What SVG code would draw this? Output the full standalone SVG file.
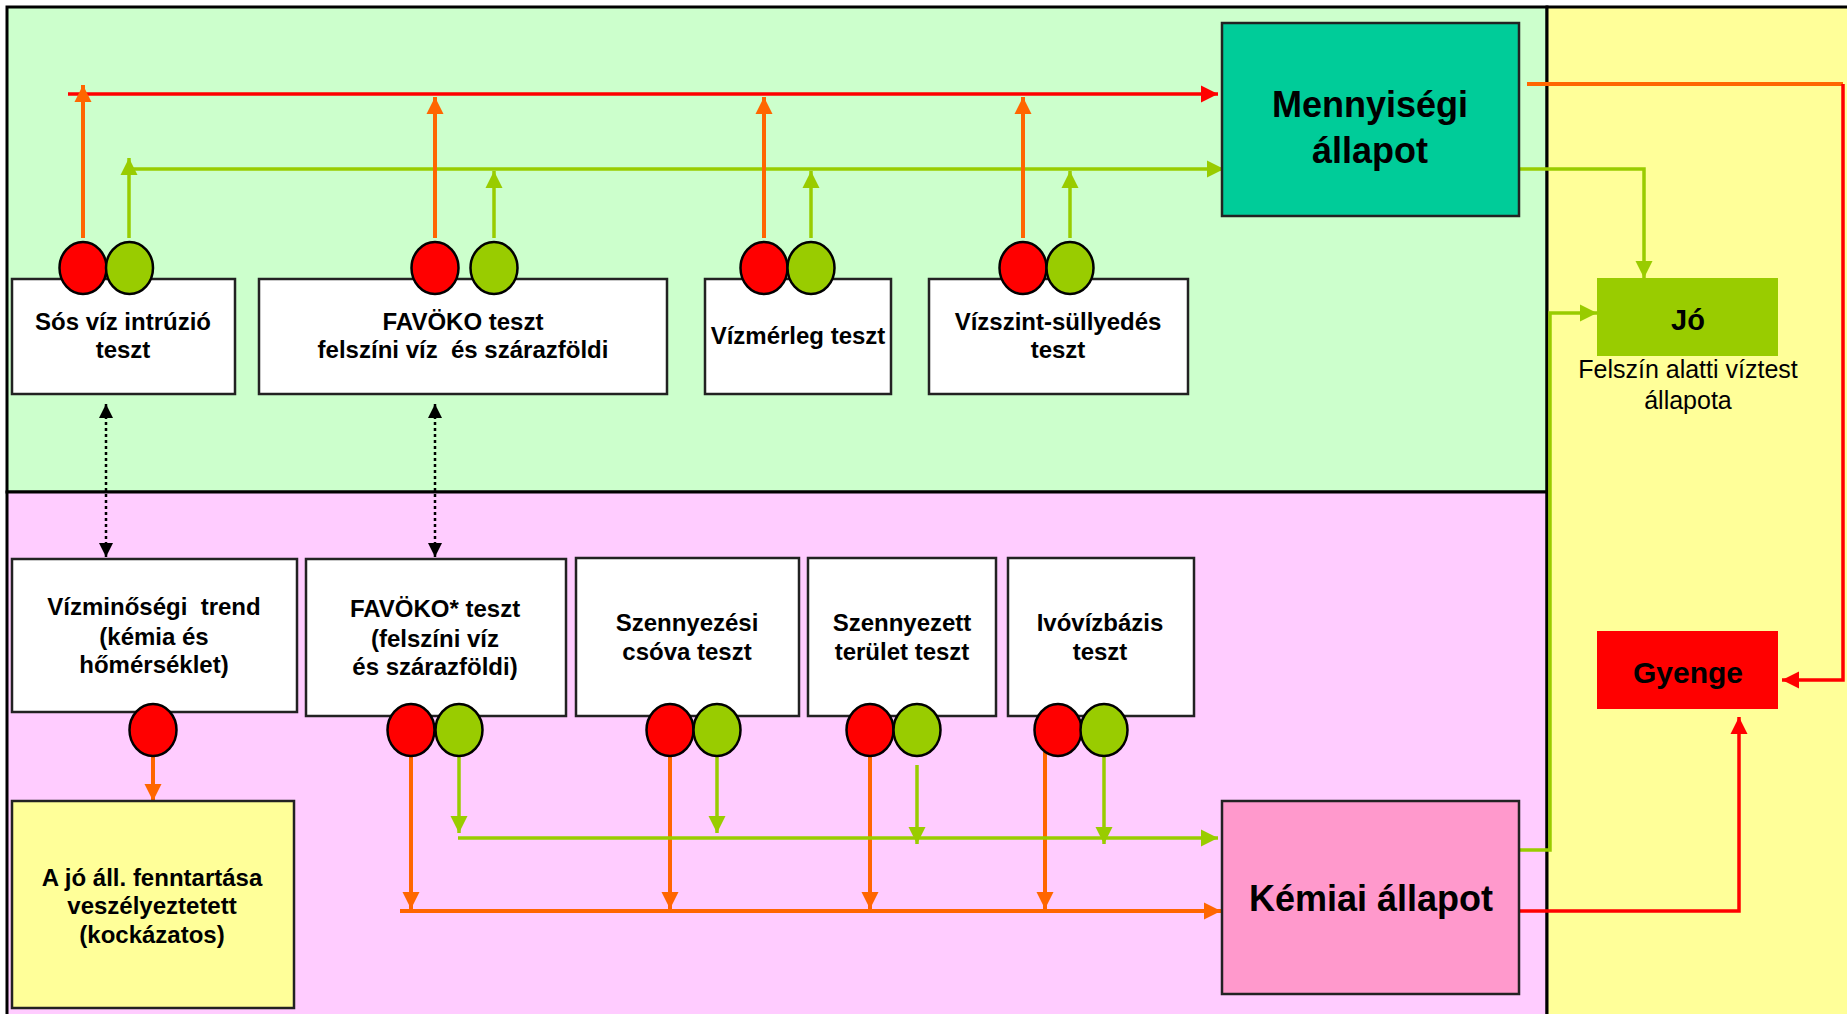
<svg xmlns="http://www.w3.org/2000/svg" width="1847" height="1014" viewBox="0 0 1847 1014">
<style>
.panel{stroke:#000;stroke-width:3}
.box{fill:#fff;stroke:#222;stroke-width:2.5}
.t{font-family:"Liberation Sans",Arial,sans-serif;font-weight:bold;font-size:24px;fill:#000;text-anchor:middle}
.big{font-size:36px}
.red{fill:#FF0000;stroke:#000;stroke-width:2.5}
.grn{fill:#99CC00;stroke:#000;stroke-width:2.5}
.co{fill:none;stroke:#FF6600;stroke-width:4}
.cr{fill:none;stroke:#FF0000;stroke-width:3.5}
.cg{fill:none;stroke:#99CC00;stroke-width:3.5}
.cd{fill:none;stroke:#000;stroke-width:2.5;stroke-dasharray:3 3}
</style>
<defs>
<marker id="mo" viewBox="0 0 10 10" refX="10" refY="5" markerUnits="userSpaceOnUse" markerWidth="17" markerHeight="18" orient="auto"><path d="M0,0L10,5L0,10z" fill="#FF6600"/></marker>
<marker id="mr" viewBox="0 0 10 10" refX="10" refY="5" markerUnits="userSpaceOnUse" markerWidth="17" markerHeight="18" orient="auto"><path d="M0,0L10,5L0,10z" fill="#FF0000"/></marker>
<marker id="mg" viewBox="0 0 10 10" refX="10" refY="5" markerUnits="userSpaceOnUse" markerWidth="17" markerHeight="18" orient="auto"><path d="M0,0L10,5L0,10z" fill="#99CC00"/></marker>
<marker id="mk" viewBox="0 0 10 10" refX="10" refY="5" markerUnits="userSpaceOnUse" markerWidth="15" markerHeight="14" orient="auto-start-reverse"><path d="M0,0L10,5L0,10z" fill="#000"/></marker>
</defs>

<g id="panels">
<rect class="panel" x="7" y="7" width="1540" height="485" fill="#CCFFCC"/>
<rect class="panel" x="7" y="492" width="1540" height="530" fill="#FFCCFF"/>
<rect class="panel" x="1547" y="7" width="310" height="1015" fill="#FFFF99"/>
</g>

<g id="connectors">
<path class="cr" d="M68,94H1218" marker-end="url(#mr)"/>
<path class="cg" d="M129,169H1224" marker-end="url(#mg)"/>
<path class="co" d="M83,238V85" marker-end="url(#mo)"/>
<path class="co" d="M435,238V97" marker-end="url(#mo)"/>
<path class="co" d="M764,238V97" marker-end="url(#mo)"/>
<path class="co" d="M1023,238V97" marker-end="url(#mo)"/>
<path class="cg" d="M129,238V158" marker-end="url(#mg)"/>
<path class="cg" d="M494,238V171" marker-end="url(#mg)"/>
<path class="cg" d="M811,238V171" marker-end="url(#mg)"/>
<path class="cg" d="M1070,238V171" marker-end="url(#mg)"/>
<path class="co" d="M1527,84H1843"/>
<path class="cr" d="M1843,84V680H1782" marker-end="url(#mr)"/>
<path class="cg" d="M1515,169H1644V278" marker-end="url(#mg)"/>
<path class="cg" d="M1516,850H1550V313H1597" marker-end="url(#mg)"/>
<path class="cr" d="M1516,911H1739V717" marker-end="url(#mr)"/>
<path class="cd" d="M106,404V557" marker-start="url(#mk)" marker-end="url(#mk)"/>
<path class="cd" d="M435,404V557" marker-start="url(#mk)" marker-end="url(#mk)"/>
<path class="co" d="M153,756V801" marker-end="url(#mo)"/>
<path class="co" d="M411,741V909" marker-end="url(#mo)"/>
<path class="co" d="M670,752V909" marker-end="url(#mo)"/>
<path class="co" d="M870,752V909" marker-end="url(#mo)"/>
<path class="co" d="M1045,752V909" marker-end="url(#mo)"/>
<path class="co" d="M400,911H1221" marker-end="url(#mo)"/>
<path class="cg" d="M459,756V833" marker-end="url(#mg)"/>
<path class="cg" d="M717,756V833" marker-end="url(#mg)"/>
<path class="cg" d="M917,765V844" marker-end="url(#mg)"/>
<path class="cg" d="M1104,756V844" marker-end="url(#mg)"/>
<path class="cg" d="M458,838H1218" marker-end="url(#mg)"/>
</g>

<g id="mennyisegi">
<rect x="1222" y="23" width="297" height="193" fill="#00CC99" stroke="#222" stroke-width="2.5"/>
<text class="t big" x="1370" y="117">Mennyiségi</text>
<text class="t big" x="1370" y="163">állapot</text>
</g>

<g id="sos">
<rect class="box" x="12" y="279" width="223" height="115"/>
<text class="t" x="123" y="330">Sós víz intrúzió</text>
<text class="t" x="123" y="358">teszt</text>
<ellipse class="red" cx="83" cy="268" rx="23.5" ry="26"/>
<ellipse class="grn" cx="129.5" cy="268" rx="23.5" ry="26"/>
</g>

<g id="favoko">
<rect class="box" x="259" y="279" width="408" height="115"/>
<text class="t" x="463" y="330">FAVÖKO teszt</text>
<text class="t" x="463" y="358" xml:space="preserve">felszíni víz  és szárazföldi</text>
<ellipse class="red" cx="435" cy="268" rx="23.5" ry="26"/>
<ellipse class="grn" cx="494" cy="268" rx="23.5" ry="26"/>
</g>

<g id="vizmerleg">
<rect class="box" x="705" y="279" width="186" height="115"/>
<text class="t" x="798" y="344">Vízmérleg teszt</text>
<ellipse class="red" cx="764" cy="268" rx="23.5" ry="26"/>
<ellipse class="grn" cx="811" cy="268" rx="23.5" ry="26"/>
</g>

<g id="vizszint">
<rect class="box" x="929" y="279" width="259" height="115"/>
<text class="t" x="1058" y="330">Vízszint-süllyedés</text>
<text class="t" x="1058" y="358">teszt</text>
<ellipse class="red" cx="1023" cy="268" rx="23.5" ry="26"/>
<ellipse class="grn" cx="1070" cy="268" rx="23.5" ry="26"/>
</g>

<g id="jo">
<rect x="1597" y="278" width="181" height="78" fill="#99CC00"/>
<text class="t" x="1688" y="330" style="font-size:29px">Jó</text>
<text class="t" x="1688" y="378" style="font-weight:normal;font-size:25px">Felszín alatti víztest</text>
<text class="t" x="1688" y="409" style="font-weight:normal;font-size:25px">állapota</text>
</g>

<g id="gyenge">
<rect x="1597" y="631" width="181" height="78" fill="#FF0000"/>
<text class="t" x="1688" y="683" style="font-size:30px">Gyenge</text>
</g>

<g id="vizminosegi">
<rect class="box" x="12" y="559" width="285" height="153"/>
<text class="t" x="154" y="615" xml:space="preserve">Vízminőségi  trend</text>
<text class="t" x="154" y="645">(kémia és</text>
<text class="t" x="154" y="673">hőmérséklet)</text>
<ellipse class="red" cx="153" cy="730" rx="23.5" ry="26"/>
</g>

<g id="favoko2">
<rect class="box" x="306" y="559" width="260" height="157"/>
<text class="t" x="435" y="617">FAVÖKO* teszt</text>
<text class="t" x="435" y="647">(felszíni víz</text>
<text class="t" x="435" y="675">és szárazföldi)</text>
<ellipse class="red" cx="411" cy="730" rx="23.5" ry="26"/>
<ellipse class="grn" cx="459" cy="730" rx="23.5" ry="26"/>
</g>

<g id="szennyezesi">
<rect class="box" x="576" y="558" width="223" height="158"/>
<text class="t" x="687" y="631">Szennyezési</text>
<text class="t" x="687" y="660">csóva teszt</text>
<ellipse class="red" cx="670" cy="730" rx="23.5" ry="26"/>
<ellipse class="grn" cx="717" cy="730" rx="23.5" ry="26"/>
</g>

<g id="szennyezett">
<rect class="box" x="808" y="558" width="188" height="158"/>
<text class="t" x="902" y="631">Szennyezett</text>
<text class="t" x="902" y="660">terület teszt</text>
<ellipse class="red" cx="870" cy="730" rx="23.5" ry="26"/>
<ellipse class="grn" cx="917" cy="730" rx="23.5" ry="26"/>
</g>

<g id="ivoviz">
<rect class="box" x="1008" y="558" width="186" height="158"/>
<text class="t" x="1100" y="631">Ivóvízbázis</text>
<text class="t" x="1100" y="660">teszt</text>
<ellipse class="red" cx="1058" cy="730" rx="23.5" ry="26"/>
<ellipse class="grn" cx="1104" cy="730" rx="23.5" ry="26"/>
</g>

<g id="ajo">
<rect x="12" y="801" width="282" height="207" fill="#FFFF99" stroke="#222" stroke-width="2.5"/>
<text class="t" x="152" y="886">A jó áll. fenntartása</text>
<text class="t" x="152" y="914">veszélyeztetett</text>
<text class="t" x="152" y="943">(kockázatos)</text>
</g>

<g id="kemiai">
<rect x="1222" y="801" width="297" height="193" fill="#FF99CC" stroke="#222" stroke-width="2.5"/>
<text class="t big" x="1371" y="911">Kémiai állapot</text>
</g>
</svg>
